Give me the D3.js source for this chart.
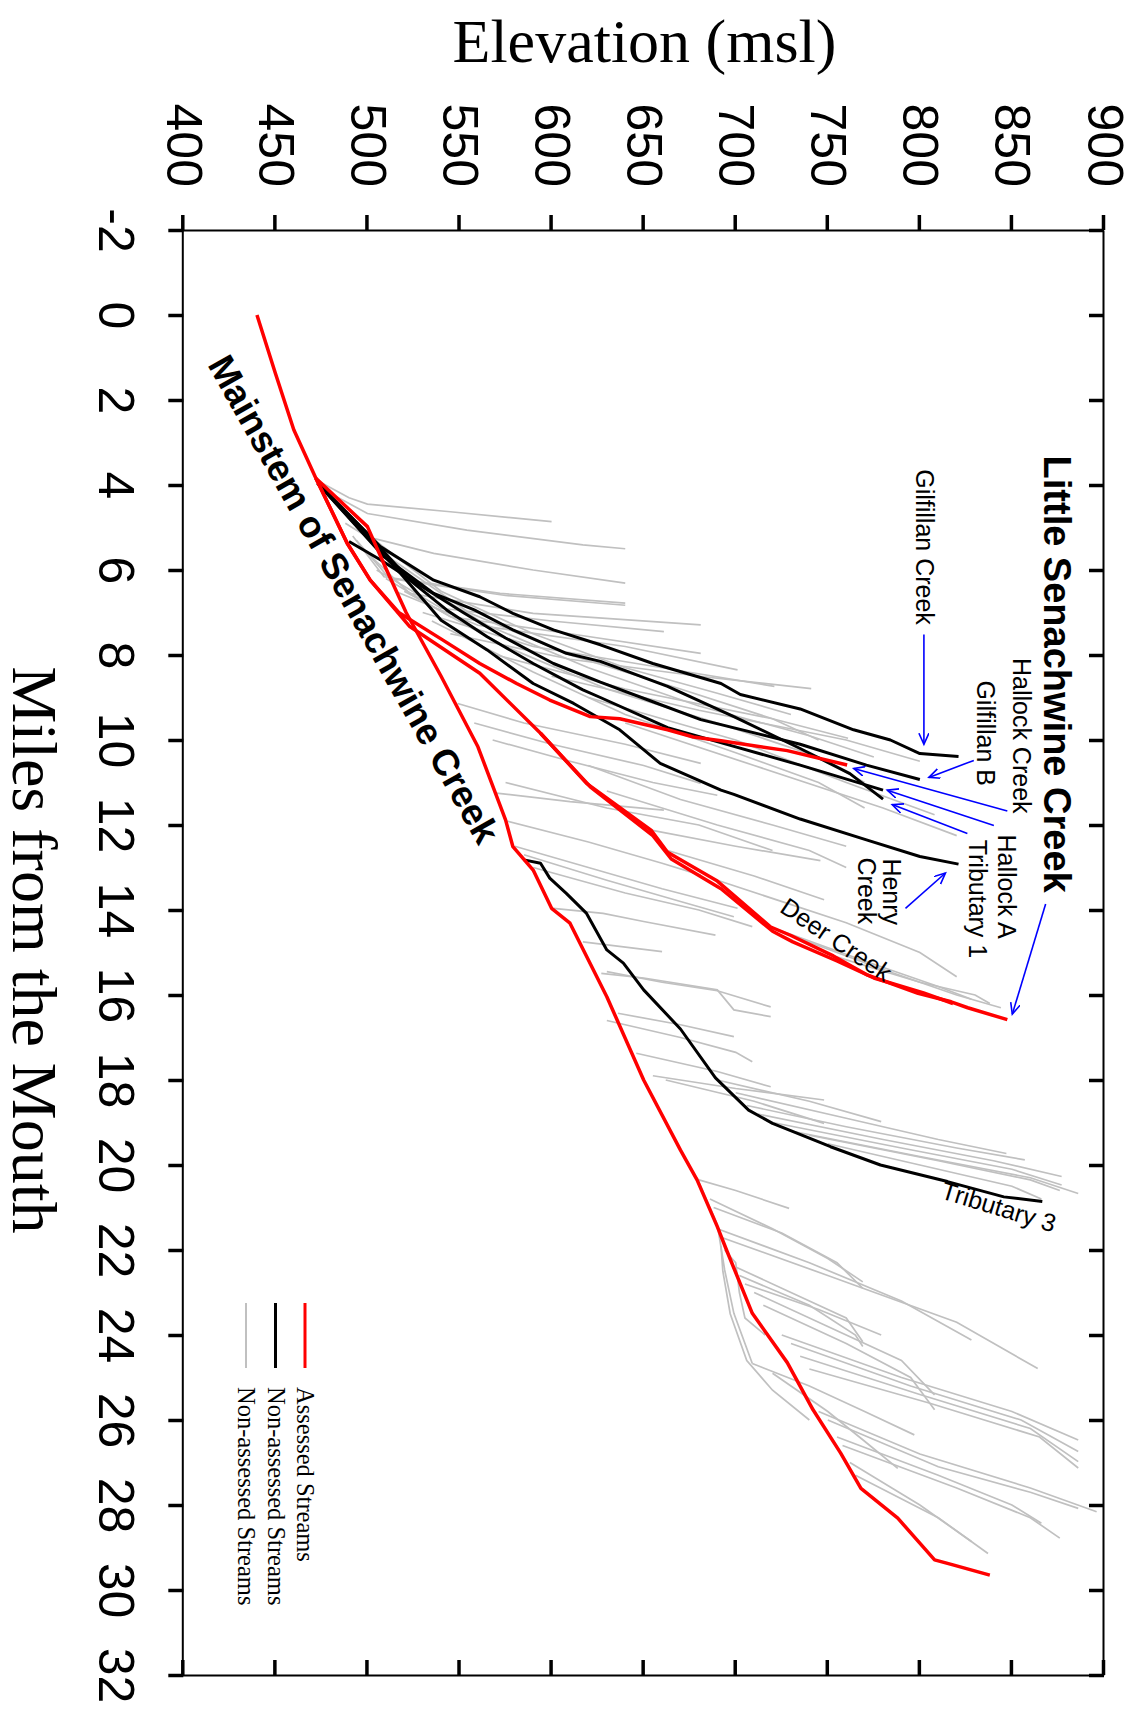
<!DOCTYPE html>
<html>
<head>
<meta charset="utf-8">
<script src="https://cdn.jsdelivr.net/npm/d3@7"></script>
<style>
  body { margin: 0; background: #fff; }
  svg { display: block; }
</style>
</head>
<body>
<svg id="chart"></svg>
<script>
// tick values
const mileTicks = d3.range(-2, 33, 2);
const elevTicks = d3.range(400, 901, 50);

// Assessed streams (red) -- [miles from the mouth, elevation msl]
const mainstem = [[0,440],[1.37,450],[2.7,460],[3.84,472],[4.98,500],[5.96,510],[7.0,521],[8.5,540],[10.16,560],[11.88,575],[12.51,579],[13.06,590],[13.96,600],[14.31,610],[16.04,630],[18.0,650],[19.65,670],[20.35,679],[21.45,690],[22.0,695],[23.49,709],[24.65,728],[25.76,742],[26.78,757],[27.61,768],[28.31,788],[29.29,808],[29.41,818],[29.65,838]];
const hallockCreek = [[3.84,472],[5.37,489],[6.24,501.5],[7.0,517],[7.65,541],[8.2,561],[8.67,581],[9.06,599],[9.45,621],[9.5,637],[9.76,663],[9.93,677],[10.02,692],[10.25,728],[10.59,760.5]];
const littleSenachwine = [[3.84,472],[5.37,489],[6.24,501.5],[7.33,523],[8.43,561],[9.84,594],[11.02,619],[12.12,654],[12.64,663],[13.32,690],[14.4,719],[14.6,730],[15.08,753],[15.52,771],[15.96,799],[16.16,817],[16.3,826],[16.58,847.5]];
const deerCreek = [[9.84,594],[11.1,621],[12.25,655],[12.8,665],[13.5,692],[14.5,720],[14.75,731],[15.2,755],[15.6,775],[15.95,802],[16.2,818]];

// Non-assessed named streams (black)
const gilfillanCreek = [[3.96,473],[5.45,507],[6.24,536],[6.63,561],[7.02,579],[7.41,601],[7.76,626.5],[8.2,655],[8.67,692],[8.93,702.5],[9.27,735],[9.76,764],[10.0,784],[10.32,800],[10.39,821]];
const tributary1 = [[3.96,473],[5.69,509],[6.55,536],[6.94,558],[7.41,579],[7.96,608],[8.15,626.5],[8.74,663],[9.45,699],[10.2,735],[10.79,762],[11.39,780]];
const gilfillanB = [[5.33,490],[5.76,507],[6.4,530],[7.0,552],[7.6,575],[8.2,601],[8.64,626.5],[9.1,655],[9.52,681],[10.1,735],[10.59,771],[10.93,800]];
const hallockA = [[3.96,473],[5.14,500],[6.24,523],[6.94,543],[7.57,565],[8.2,590],[8.82,617],[9.0,626.5],[9.71,663],[10.15,699],[10.59,735],[11.18,780]];
const henryCreek = [[3.96,473],[5.0,495],[6.08,518],[7.18,540],[7.88,565],[8.67,590],[9.14,612],[9.76,637],[10.55,659],[11.18,692],[11.28,699],[11.86,735],[12.35,771],[12.74,800],[12.92,821]];
const tributary3 = [[12.82,585],[12.9,594],[13.25,599],[13.61,608],[14.08,619],[14.94,630],[15.25,639],[15.88,650],[16.8,670],[17.95,689],[18.71,707],[19.02,720],[19.57,751.5],[20.0,778.6],[20.39,815],[20.75,845.6],[20.86,866.5]];

// Other non-assessed streams (gray)
const otherStreams = [
  [[3.9,473],[4.3,490],[4.45,500],[4.63,545],[4.86,600]],
  [[4.2,480],[4.67,500],[5.06,554],[5.41,617],[5.5,640]],
  [[4.9,488],[5.22,500],[5.61,536],[6.0,590],[6.31,640]],
  [[5.2,492],[6.16,509],[6.55,572],[6.78,640]],
  [[5.3,494],[6.2,512],[6.6,575],[6.83,640]],
  [[5.6,500],[6.55,523],[7.02,590],[7.29,681]],
  [[6.0,505],[6.9,540],[7.2,600],[7.45,661]],
  [[6.2,510],[7.1,545],[7.5,610],[7.96,681]],
  [[6.5,515],[7.3,560],[7.8,640],[8.35,701]],
  [[7.0,530],[7.8,590],[8.3,660],[8.74,721]],
  [[7.5,545],[8.1,610],[8.5,680],[8.79,741]],
  [[8.0,570],[8.8,640],[9.5,720],[9.96,761]],
  [[8.5,600],[9.3,680],[10.0,760],[10.5,800]],
  [[9.0,620],[10.0,700],[11.0,760],[11.76,808]],
  [[9.6,640],[10.6,710],[11.6,780],[12.25,820]],
  [[5.0,495],[6.5,540],[7.5,590],[8.3,640],[8.9,690],[9.4,730]],
  [[5.5,505],[7.0,555],[8.0,610],[8.8,670],[9.5,720],[10.0,745]],
  [[6.0,515],[7.3,565],[8.3,620],[9.2,680],[9.9,740],[10.4,775]],
  [[6.5,520],[7.8,575],[8.8,630],[9.6,690],[10.4,745],[11.0,770]],
  [[7.2,535],[8.4,590],[9.4,640],[10.3,700],[11.0,745],[11.6,770]],
  [[9.14,549],[9.6,585],[10.1,640],[10.55,681]],
  [[9.6,558],[10.1,600],[10.6,650],[11.02,681]],
  [[10.0,568],[10.5,610],[11.0,655],[11.3,690]],
  [[11.25,570],[11.45,610],[11.65,661]],
  [[11.0,575],[11.6,630],[12.0,680],[12.6,720]],
  [[11.9,575],[12.4,620],[12.9,660],[13.18,681]],
  [[12.5,580],[13.0,620],[13.5,660],[13.96,701]],
  [[12.7,585],[13.3,630],[13.8,670],[14.16,699]],
  [[13.0,590],[13.6,640],[14.0,680],[14.39,709]],
  [[13.96,601],[14.08,628],[14.27,650],[14.59,689]],
  [[14.75,617],[14.98,660]],
  [[12.12,654],[12.5,700],[12.84,746]],
  [[12.6,663],[13.2,710],[13.76,748]],
  [[13.3,690],[14.3,760],[15.0,800],[15.57,820]],
  [[14.4,719],[15.2,770],[15.8,810],[16.1,828]],
  [[14.6,730],[15.4,780],[16.0,820],[16.3,844]],
  [[15.08,753],[15.7,800],[16.0,830],[16.2,838]],
  [[15.45,630],[15.7,660],[15.9,690],[16.28,719]],
  [[15.49,627],[15.6,650],[15.88,690],[16.35,699],[16.51,719]],
  [[16.43,636],[16.7,670],[16.98,699]],
  [[16.6,630],[17.0,670],[17.35,700],[17.57,709]],
  [[17.37,646],[17.8,690],[18.16,719]],
  [[10.6,620],[11.4,670],[12.0,720],[12.5,760]],
  [[11.2,630],[12.0,690],[12.6,740],[13.0,760]],
  [[17.9,655],[18.2,700],[18.47,748]],
  [[18.0,662],[18.5,710],[19.02,748]],
  [[18.0,690],[18.5,740],[18.98,779]],
  [[18.3,700],[18.9,760],[19.4,810],[19.73,847]],
  [[18.6,706],[19.1,760],[19.6,820],[19.88,857]],
  [[18.8,712],[19.4,780],[19.9,840],[20.27,877]],
  [[19.0,720],[19.6,790],[20.1,850],[20.47,877]],
  [[19.2,730],[19.8,800],[20.3,860],[20.67,886]],
  [[19.3,740],[19.9,810],[20.35,860],[20.6,876]],
  [[19.5,750],[20.0,800],[20.5,850],[20.8,866]],
  [[20.35,680],[20.6,700],[21.02,729]],
  [[20.8,686],[21.5,720],[22.2,750],[22.75,769]],
  [[21.0,688],[21.6,725],[22.3,755],[22.9,769]],
  [[21.5,690],[22.3,740],[23.2,790],[24.12,828]],
  [[21.7,692],[22.6,750],[23.7,820],[24.79,864]],
  [[22.4,700],[23.0,730],[23.6,760],[24.16,769]],
  [[22.6,702],[23.3,740],[24.0,765],[24.27,769]],
  [[22.8,705],[23.4,745],[24.0,779]],
  [[23.0,710],[23.8,750],[24.6,790],[25.41,808]],
  [[23.3,715],[24.2,760],[25.0,795],[25.76,808]],
  [[24.0,725],[25.0,790],[25.8,850],[26.47,886]],
  [[24.2,730],[25.2,795],[26.0,855],[26.74,886]],
  [[24.5,735],[25.4,800],[26.2,860],[26.98,886]],
  [[24.8,740],[25.6,805],[26.4,865],[27.13,886]],
  [[24.67,709],[25.2,740],[25.8,770],[26.35,797]],
  [[24.9,720],[25.8,750],[26.5,770],[27.14,788]],
  [[25.8,745],[26.8,800],[27.6,860],[28.16,896]],
  [[26.0,750],[27.1,810],[27.7,860],[28.08,886]],
  [[26.4,755],[27.3,810],[28.0,850],[28.43,866]],
  [[26.6,758],[27.6,820],[28.3,860],[28.78,876]],
  [[27.0,762],[28.0,800],[28.86,828]],
  [[27.3,765],[28.3,810],[29.14,837]],
  [[20.3,679],[21.4,690],[22.47,694],[23.49,699],[24.67,709]],
  [[21.9,692],[22.5,693],[23.5,697],[24.6,706],[25.3,720],[26.0,740]],
  [[22.0,694],[22.3,700],[23.0,702],[23.6,705],[24.0,716]]
];

const assessed = [mainstem, hallockCreek, littleSenachwine, deerCreek];
const namedNonAssessed = [gilfillanCreek, tributary1, gilfillanB, hallockA, henryCreek, tributary3];

// labels: text, mile, elevation, rotation in the unrotated chart frame
const labels = [
  { text: 'Little Senachwine Creek', m: 8.45, e: 874.3, rot: 0, size: 38, bold: true },
  { text: 'Mainstem of Senachwine Creek', m: 6.69, e: 492.5, rot: -29.4, size: 37, bold: true },
  { text: 'Gilfillan Creek', m: 5.46, e: 802.6, rot: 0, size: 25 },
  { text: 'Hallock Creek', m: 9.9, e: 855.6, rot: 0, size: 25 },
  { text: 'Gilfillan B', m: 9.84, e: 835.7, rot: 0, size: 25 },
  { text: 'Hallock A', m: 13.45, e: 847.5, rot: 0, size: 25 },
  { text: 'Tributary 1', m: 13.74, e: 831.5, rot: 0, size: 25 },
  { text: 'Henry', m: 13.57, e: 785, rot: 0, size: 25 },
  { text: 'Creek', m: 13.55, e: 771.4, rot: 0, size: 25 },
  { text: 'Deer Creek', m: 14.69, e: 754.7, rot: -56, size: 25 },
  { text: 'Tributary 3', m: 20.98, e: 842.9, rot: -73, size: 25 }
];

// arrows: [from, to] in [mile, elevation]
const arrows = [
  [[13.86,868.3],[16.45,850.2]],
  [[7.52,802.2],[10.1,802.2]],
  [[11.67,847.5],[10.67,764.1]],
  [[10.48,829.3],[10.88,804.9]],
  [[12.01,840.2],[11.18,782.3]],
  [[12.2,825.8],[11.52,785]],
  [[13.96,792.2],[13.13,813.9]]
];

const legendItems = ['Assessed Streams', 'Non-assessed Streams', 'Non-assessed Streams'];
const legendColors = ['#ff0000', '#000000', '#c0c0c0'];

const config = {
  width: 1139, height: 1712,
  left: 183.3, top: 230,
  plotW: 1445,   // miles run down the page
  plotH: 920.7   // elevation runs across the page
};

const svg = d3.select('#chart')
  .attr('width', config.width)
  .attr('height', config.height)
  .style('background', '#fff');

svg.append('defs').append('marker')
  .attr('id', 'arrow')
  .attr('markerUnits', 'userSpaceOnUse')
  .attr('markerWidth', 14).attr('markerHeight', 12)
  .attr('refX', 11).attr('refY', 5)
  .attr('orient', 'auto')
  .append('path')
  .attr('d', 'M0,0 L11,5 L0,10')
  .attr('fill', 'none')
  .attr('stroke', '#0000ff')
  .attr('stroke-width', 1.6);

// the whole plot is drawn as a normal chart and turned a quarter clockwise
const chart = svg.append('g')
  .attr('transform', `translate(${config.left + config.plotH},${config.top}) rotate(90)`);

const x = d3.scaleLinear().domain([-2, 32]).range([0, config.plotW]);
const y = d3.scaleLinear().domain([400, 900]).range([config.plotH, 0]);

const line = d3.line().x(d => x(d[0])).y(d => y(d[1]));

// axes
const styleAxis = g => {
  g.select('.domain').attr('stroke', '#000').attr('stroke-width', 2);
  g.selectAll('.tick line').attr('stroke', '#000').attr('stroke-width', 3.5);
  g.selectAll('.tick text')
    .attr('fill', '#000')
    .style('font-family', '"Liberation Sans", Arial, sans-serif')
    .style('font-size', '50px');
};

chart.append('g')
  .call(d3.axisLeft(y).tickValues(elevTicks).tickSize(15).tickPadding(28).tickSizeOuter(0).tickFormat(d => String(d)))
  .call(styleAxis);

chart.append('g')
  .attr('transform', `translate(0,${config.plotH})`)
  .call(d3.axisBottom(x).tickValues(mileTicks).tickSize(15).tickPadding(34).tickSizeOuter(0).tickFormat(d => String(d)))
  .call(styleAxis);

chart.append('g')
  .attr('transform', `translate(${config.plotW},0)`)
  .call(d3.axisRight(y).tickValues(elevTicks).tickSize(-15).tickSizeOuter(0).tickFormat(''))
  .call(styleAxis);

chart.append('g')
  .call(d3.axisTop(x).tickValues(mileTicks).tickSize(-15).tickSizeOuter(0).tickFormat(''))
  .call(styleAxis);

// streams
chart.append('g').selectAll('path')
  .data(otherStreams).join('path')
  .attr('d', line)
  .attr('fill', 'none')
  .attr('stroke', '#c0c0c0')
  .attr('stroke-width', 1.7);

chart.append('g').selectAll('path')
  .data(namedNonAssessed).join('path')
  .attr('d', line)
  .attr('fill', 'none')
  .attr('stroke', '#000')
  .attr('stroke-width', 3)
  .attr('stroke-linejoin', 'round');

chart.append('g').selectAll('path')
  .data(assessed).join('path')
  .attr('d', line)
  .attr('fill', 'none')
  .attr('stroke', '#ff0000')
  .attr('stroke-width', 3.5)
  .attr('stroke-linejoin', 'round');

// arrows
chart.append('g').selectAll('line')
  .data(arrows).join('line')
  .attr('x1', d => x(d[0][0])).attr('y1', d => y(d[0][1]))
  .attr('x2', d => x(d[1][0])).attr('y2', d => y(d[1][1]))
  .attr('stroke', '#0000ff')
  .attr('stroke-width', 1.6)
  .attr('marker-end', 'url(#arrow)');

// labels
chart.append('g').selectAll('text')
  .data(labels).join('text')
  .attr('transform', d => `translate(${x(d.m)},${y(d.e)}) rotate(${d.rot})`)
  .attr('text-anchor', 'middle')
  .attr('dominant-baseline', 'central')
  .style('font-family', '"Liberation Sans", Arial, sans-serif')
  .style('font-size', d => d.size + 'px')
  .style('font-weight', d => d.bold ? 'bold' : 'normal')
  .text(d => d.text);

// legend (screen coordinates, text reads down the page)
const legend = svg.append('g');
legendItems.forEach((name, i) => {
  const lx = 305 - i * 29.5;
  legend.append('line')
    .attr('x1', lx).attr('x2', lx)
    .attr('y1', 1303).attr('y2', 1368)
    .attr('stroke', legendColors[i])
    .attr('stroke-width', i === 2 ? 2 : 3);
  legend.append('text')
    .attr('transform', `translate(${lx - 8},1387) rotate(90)`)
    .style('font-family', '"Liberation Serif", "Times New Roman", serif')
    .style('font-size', '24.5px')
    .text(name);
});

// axis titles
svg.append('text')
  .attr('x', 644.5).attr('y', 62)
  .attr('text-anchor', 'middle')
  .style('font-family', '"Liberation Serif", "Times New Roman", serif')
  .style('font-size', '62px')
  .text('Elevation (msl)');

svg.append('text')
  .attr('transform', 'translate(13,950) rotate(90)')
  .attr('text-anchor', 'middle')
  .style('font-family', '"Liberation Serif", "Times New Roman", serif')
  .style('font-size', '64px')
  .text('Miles from the Mouth');
</script>
</body>
</html>
